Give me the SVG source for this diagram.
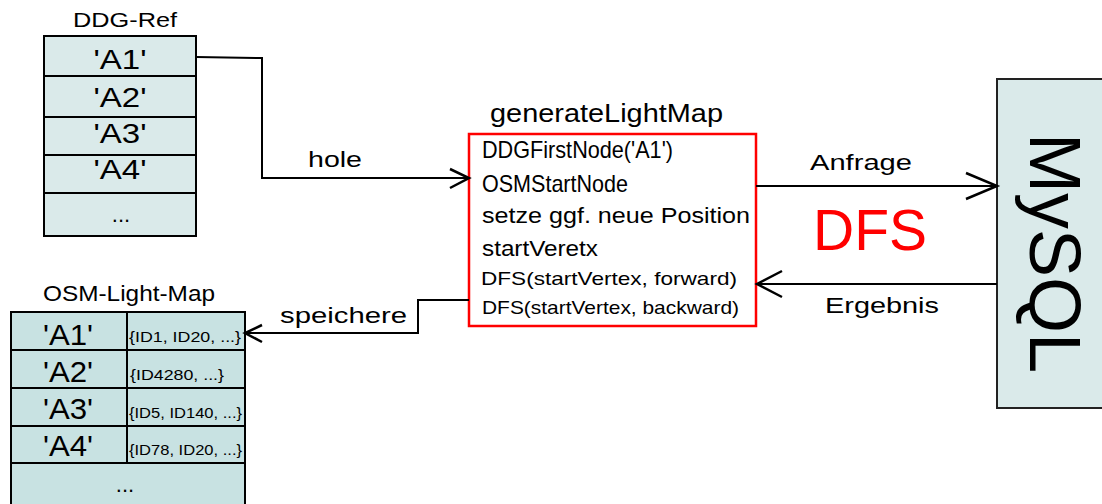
<svg xmlns="http://www.w3.org/2000/svg" width="1102" height="504" viewBox="0 0 1102 504">
<style>
text{font-family:"Liberation Sans",Arial,sans-serif;fill:#000}
.cell{fill:#daeaea;stroke:#000;stroke-width:2}
.cell2{fill:#c8e2e2;stroke:#000;stroke-width:2}
.ln{fill:none;stroke:#000;stroke-width:2}
.head{fill:none;stroke:#000;stroke-width:2.5}
.mid{text-anchor:middle}
.code{font-family:"Liberation Sans Narrow","Liberation Sans",Arial,sans-serif}
</style>
<rect width="1102" height="504" fill="#fff"/>
<g id="ddg-ref">
<text x="125" y="27" class="mid" font-size="20" textLength="104" lengthAdjust="spacingAndGlyphs">DDG-Ref</text>
<rect class="cell" x="44" y="36" width="152" height="200"/>
<line class="ln" x1="44" y1="76" x2="196" y2="76"/>
<line class="ln" x1="44" y1="117" x2="196" y2="117"/>
<line class="ln" x1="44" y1="155" x2="196" y2="155"/>
<line class="ln" x1="44" y1="193" x2="196" y2="193"/>
<text x="120" y="69" class="mid" font-size="27" textLength="53" lengthAdjust="spacingAndGlyphs">'A1'</text>
<text x="120" y="107" class="mid" font-size="27" textLength="53" lengthAdjust="spacingAndGlyphs">'A2'</text>
<text x="120" y="143" class="mid" font-size="27" textLength="53" lengthAdjust="spacingAndGlyphs">'A3'</text>
<text x="120" y="179" class="mid" font-size="27" textLength="53" lengthAdjust="spacingAndGlyphs">'A4'</text>
<text x="121" y="222" class="mid" font-size="22">...</text>
</g>
<g id="osm-light-map">
<text x="129" y="301" class="mid" font-size="22" textLength="172" lengthAdjust="spacingAndGlyphs">OSM-Light-Map</text>
<rect class="cell2" x="11" y="312" width="234" height="200"/>
<line class="ln" x1="11" y1="350" x2="245" y2="350"/>
<line class="ln" x1="11" y1="388" x2="245" y2="388"/>
<line class="ln" x1="11" y1="426" x2="245" y2="426"/>
<line class="ln" x1="11" y1="463" x2="245" y2="463"/>
<line class="ln" x1="127" y1="312" x2="127" y2="463"/>
<text x="68" y="345" class="mid" font-size="29" textLength="50" lengthAdjust="spacingAndGlyphs">'A1'</text>
<text x="68" y="382" class="mid" font-size="29" textLength="50" lengthAdjust="spacingAndGlyphs">'A2'</text>
<text x="68" y="419" class="mid" font-size="29" textLength="50" lengthAdjust="spacingAndGlyphs">'A3'</text>
<text x="68" y="456" class="mid" font-size="29" textLength="50" lengthAdjust="spacingAndGlyphs">'A4'</text>
<text x="129" y="342" font-size="15" class="code" textLength="112" lengthAdjust="spacingAndGlyphs">{ID1, ID20, ...}</text>
<text x="130" y="380" font-size="15" class="code" textLength="94" lengthAdjust="spacingAndGlyphs">{ID4280, ...}</text>
<text x="129" y="418" font-size="15" class="code" textLength="113" lengthAdjust="spacingAndGlyphs">{ID5, ID140, ...}</text>
<text x="129" y="455" font-size="15" class="code" textLength="113" lengthAdjust="spacingAndGlyphs">{ID78, ID20, ...}</text>
<text x="125" y="492" class="mid" font-size="22">...</text>
</g>
<g id="generateLightMap">
<text x="490" y="122" font-size="25" textLength="233" lengthAdjust="spacingAndGlyphs">generateLightMap</text>
<rect x="469" y="134" width="287" height="192" fill="#fff" stroke="#ff0000" stroke-width="2.5"/>
<text x="482" y="158" font-size="24" class="code" textLength="191" lengthAdjust="spacingAndGlyphs">DDGFirstNode('A1')</text>
<text x="482" y="192" font-size="24" class="code" textLength="146" lengthAdjust="spacingAndGlyphs">OSMStartNode</text>
<text x="482" y="223" font-size="22" textLength="268" lengthAdjust="spacingAndGlyphs">setze ggf. neue Position</text>
<text x="482" y="256" font-size="22" textLength="116" lengthAdjust="spacingAndGlyphs">startVeretx</text>
<text x="481" y="285" font-size="19" textLength="256" lengthAdjust="spacingAndGlyphs">DFS(startVertex, forward)</text>
<text x="482" y="314" font-size="19" textLength="257" lengthAdjust="spacingAndGlyphs">DFS(startVertex, backward)</text>
</g>
<g id="mysql">
<rect x="997" y="79" width="120" height="329" fill="#daeaea" stroke="#222" stroke-width="2"/>
<text transform="translate(1030,253) rotate(90)" class="mid" font-size="72">MySQL</text>
</g>
<g id="dfs-label">
<text x="813" y="250" font-size="58" fill="#ff0000" style="fill:#ff0000" textLength="114" lengthAdjust="spacingAndGlyphs">DFS</text>
</g>
<g id="connectors">
<polyline class="ln" points="196,57 262,58 262,178 468,178"/>
<polyline class="head" points="450,169 469,178 450,188"/>
<text x="308" y="167" font-size="22" textLength="54" lengthAdjust="spacingAndGlyphs">hole</text>
<line class="ln" x1="756" y1="186" x2="996" y2="186"/>
<polyline class="head" points="966,173 997,186 966,199"/>
<text x="810" y="170" font-size="22" textLength="102" lengthAdjust="spacingAndGlyphs">Anfrage</text>
<line class="ln" x1="997" y1="284" x2="758" y2="284"/>
<polyline class="head" points="782,271 757,284 782,297"/>
<text x="825" y="313" font-size="22" textLength="114" lengthAdjust="spacingAndGlyphs">Ergebnis</text>
<polyline class="ln" points="469,300 418,300 418,333 246,333"/>
<polyline class="head" points="262,325 245,333 262,342"/>
<text x="280" y="323" font-size="22" textLength="127" lengthAdjust="spacingAndGlyphs">speichere</text>
</g>
</svg>
